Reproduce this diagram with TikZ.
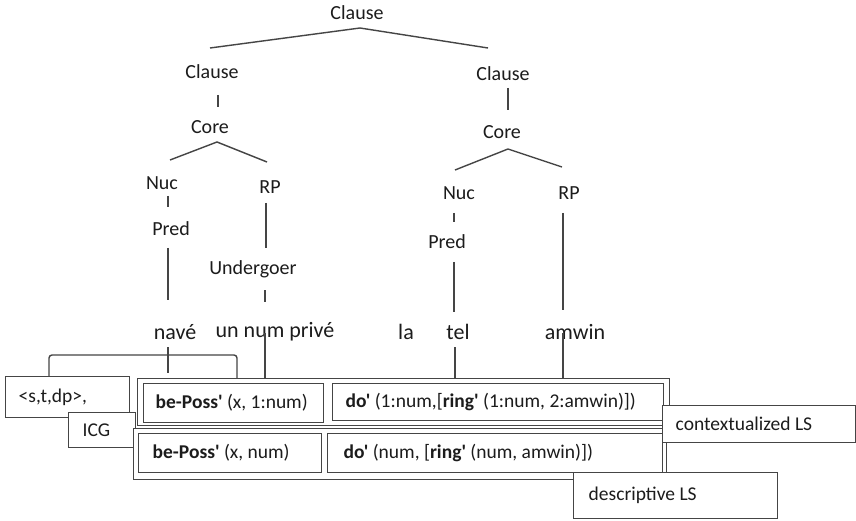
\documentclass[tikz,border=0pt]{standalone}
\usepackage{fontspec}
\setmainfont{Carlito}[Ligatures=TeXOff]
\usetikzlibrary{calc}
\definecolor{ink}{HTML}{1C1C1C}
\definecolor{rule}{HTML}{454545}
\begin{document}
\begin{tikzpicture}[x=1pt,y=-1pt,
  lab/.style={font=\fontsize{20}{24}\selectfont, text=ink, inner sep=0pt},
  word/.style={font=\fontsize{22}{26}\selectfont, text=ink, inner sep=0pt},
  edge/.style={draw=rule, line width=1.4pt},
  tbox/.style={draw=rule, fill=white, line width=1.4pt, anchor=north west,
    inner ysep=0pt, font=\fontsize{19.5}{23}\selectfont, text=ink},
  frame/.style={draw=rule, fill=white, line width=1.4pt, anchor=north west, inner sep=0pt}]
\useasboundingbox[fill=white] (0,0) rectangle (856,521);

% tree labels
\node[lab] (C0) at (357,13) {Clause};
\node[lab] (C1) at (212,72) {Clause};
\node[lab] (C2) at (503,74) {Clause};
\node[lab] (K1) at (210,127) {Core};
\node[lab] (K2) at (502,132) {Core};
\node[lab] (N1) at (162,183) {Nuc};
\node[lab] (R1) at (270,187) {RP};
\node[lab] (P1) at (171,229) {Pred};
\node[lab] (U1) at (253,269) {Undergoer};
\node[lab] (N2) at (459,193) {Nuc};
\node[lab] (R2) at (569,193) {RP};
\node[lab] (P2) at (447,242) {Pred};

% words
\node[word] (W1) at (175,332) {navé};
\node[word] (W2) at (275,332) {un num privé};
\node[word] (W3) at (406,332) {la};
\node[word] (W4) at (458,332) {tel};
\node[word] (W5) at (575,332) {amwin};

% tree branches
\draw[edge] ($(C1)+(-2,-24)$) -- ($(C0)+(3,15)$) -- ($(C2)+(-15,-26)$);
\draw[edge] ($(C1)+(6,23)$) -- ($(K1)+(8,-20)$);
\draw[edge] ($(C2)+(5,14)$) -- ($(K2)+(6,-22)$);
\draw[edge] ($(N1)+(8,-23)$) -- ($(K1)+(7,15)$) -- ($(R1)+(-3,-25)$);
\draw[edge] ($(N2)+(-4,-23)$) -- ($(K2)+(6,17)$) -- ($(R2)+(-7,-26)$);
\draw[edge] ($(N1)+(6,13)$) -- ($(P1)+(-3,-22)$);
\draw[edge] ($(P1)+(-3,19)$) -- ($(W1)+(-7,-32)$);
\draw[edge] ($(R1)+(-4,16)$) -- ($(U1)+(13,-21)$);
\draw[edge] ($(U1)+(12,21)$) -- ($(W2)+(-10,-30)$);
\draw[edge] ($(N2)+(-5,20)$) -- ($(P2)+(7,-20)$);
\draw[edge] ($(P2)+(7,20)$) -- ($(W4)+(-4,-20)$);
\draw[edge] ($(R2)+(-6,20)$) -- ($(W5)+(-12,-22)$);

% left boxes
\node[tbox, minimum width=124pt, minimum height=41pt, inner xsep=13pt] (stdp) at (5,376)
  {\makebox[98pt][l]{<s,t,dp>,}};
\node[tbox, minimum width=67pt, minimum height=35pt, inner xsep=14pt] (icg) at (68,412)
  {\makebox[39pt][l]{ICG}};

% frames holding the two logical structures
\node[frame, minimum width=532pt, minimum height=47pt] (upfr) at (137,378) {};
\node[frame, minimum width=533pt, minimum height=51pt] (lofr) at (133,428) {};

\node[tbox, minimum width=180pt, minimum height=39pt, inner xsep=12pt] (bp1) at (143,383)
  {\makebox[156pt][l]{\textbf{be-Poss'} (x, 1:num)}};
\node[tbox, minimum width=331pt, minimum height=37pt, inner xsep=13pt] (do1) at (332,383)
  {\makebox[305pt][l]{\textbf{do'} (1:num,[\textbf{ring'} (1:num, 2:amwin)])}};
\node[tbox, minimum width=183pt, minimum height=39pt, inner xsep=14pt] (bp2) at (138,433)
  {\makebox[155pt][l]{\textbf{be-Poss'} (x, num)}};
\node[tbox, minimum width=335pt, minimum height=39pt, inner xsep=16pt] (do2) at (327,433)
  {\makebox[303pt][l]{\textbf{do'} (num, [\textbf{ring'} (num, amwin)])}};

\node[tbox, minimum width=193pt, minimum height=37pt, inner xsep=13pt] (ctx) at (662,405)
  {\makebox[167pt][l]{contextualized LS}};
\node[tbox, minimum width=204pt, minimum height=46pt, inner xsep=15pt] (dsc) at (573,472)
  {\makebox[174pt][l]{descriptive LS}};

% links from the words down to the structures
\draw[edge] ($(W1)+(-7,15)$) -- ($(W1)+(-7,41)$) coordinate (navend);
\draw[edge] ($(W2)+(-10,1)$) coordinate (w2a) -- (w2a |- upfr.north);
\draw[edge] ($(W4)+(-3,15)$) coordinate (w4a) -- (w4a |- upfr.north);
\draw[edge] ($(W5)+(-12,1)$) coordinate (w5a) -- (w5a |- upfr.north);
\coordinate (brk) at ($(W1)+(62,23)$);
\draw[edge, rounded corners=3pt] ($(stdp.north west)+(44,0)$) |- (brk) -- (brk |- upfr.north);
\end{tikzpicture}
\end{document}
